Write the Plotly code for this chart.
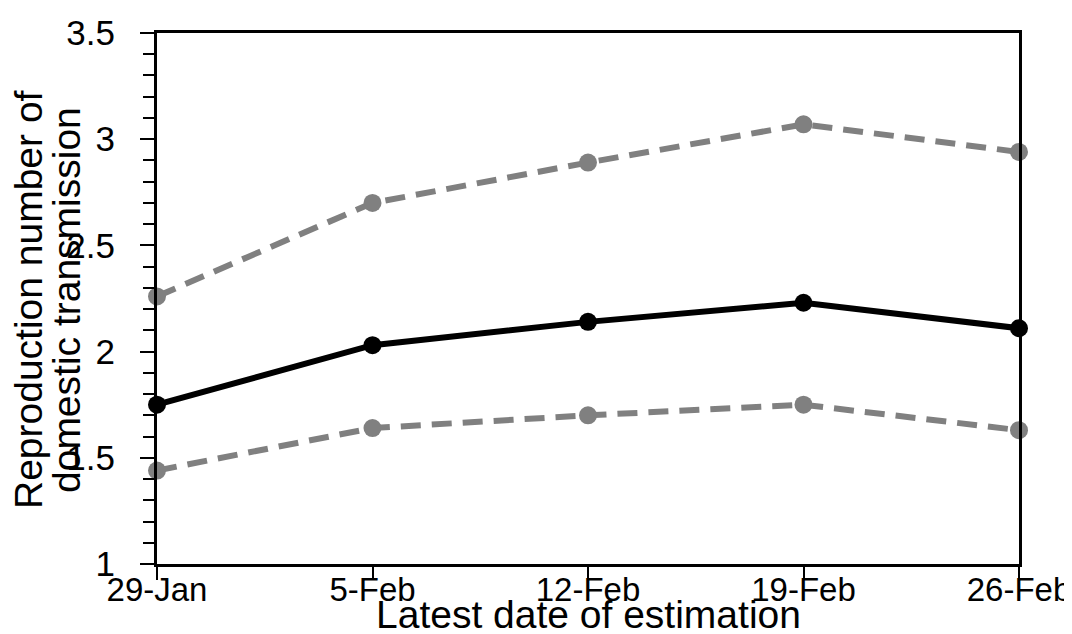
import plotly.graph_objects as go

dates = ["29-Jan", "5-Feb", "12-Feb", "19-Feb", "26-Feb"]
estimate = [1.75, 2.03, 2.14, 2.23, 2.11]
upper = [2.26, 2.70, 2.89, 3.07, 2.94]
lower = [1.44, 1.64, 1.70, 1.75, 1.63]

y_title_lines = ["Reproduction number of", "domestic transmission"]
x_title = "Latest date of estimation"

# the page body has an 8px margin, so the figure is drawn 8px smaller
OFF = 8
W, H = 1072 - OFF, 634 - OFF
ML, MT = 157 - OFF, 33 - OFF
PW, PH = 862, 531
MR = W - ML - PW
MB = H - MT - PH
FONT = "Liberation Sans, Arial, sans-serif"
GRAY = "#808080"

fig = go.Figure()
for vals in (upper, lower):
    fig.add_trace(go.Scatter(
        x=dates, y=vals, mode="lines+markers",
        line=dict(color=GRAY, width=6, dash="20px,11px"),
        marker=dict(color=GRAY, size=18),
        cliponaxis=False, showlegend=False))
fig.add_trace(go.Scatter(
    x=dates, y=estimate, mode="lines+markers",
    line=dict(color="black", width=6),
    marker=dict(color="black", size=18),
    cliponaxis=False, showlegend=False))

fig.update_layout(
    width=W, height=H,
    margin=dict(l=ML, r=MR, t=MT, b=MB),
    paper_bgcolor="white", plot_bgcolor="white",
    font=dict(family=FONT, color="black"),
    showlegend=False,
)
fig.update_xaxes(
    type="category", range=[0, len(dates) - 1], automargin=False,
    showgrid=False, zeroline=False,
    showline=True, linecolor="black", linewidth=3, mirror=True,
    ticks="outside", ticklen=13, tickwidth=2, tickcolor="black",
    ticklabelstandoff=-19,
    tickfont=dict(size=33, family=FONT, color="black"),
)
fig.update_yaxes(
    range=[1, 3.5], dtick=0.5, tick0=1, automargin=False,
    showgrid=False, zeroline=False,
    showline=True, linecolor="black", linewidth=3, mirror=True,
    ticks="outside", ticklen=14, tickwidth=2, tickcolor="black",
    ticklabelstandoff=18,
    tickfont=dict(size=35, family=FONT, color="black"),
    minor=dict(dtick=0.1, tick0=1, ticks="outside", ticklen=11,
               tickwidth=2, tickcolor="black", showgrid=False),
)

def px_x(p):
    return (p - OFF - ML) / PW

def px_y(p):
    return (MT + PH - (p - OFF)) / PH

for line, cx in zip(y_title_lines, (29, 67)):
    fig.add_annotation(
        text=line, xref="paper", yref="paper",
        x=px_x(cx), y=px_y(300), textangle=-90,
        xanchor="center", yanchor="middle", showarrow=False,
        font=dict(size=39, family=FONT, color="black"))

fig.add_annotation(
    text=x_title, xref="paper", yref="paper",
    x=0.5, y=px_y(614), xanchor="center", yanchor="middle",
    showarrow=False, font=dict(size=39, family=FONT, color="black"))

fig.write_html("out.html")
